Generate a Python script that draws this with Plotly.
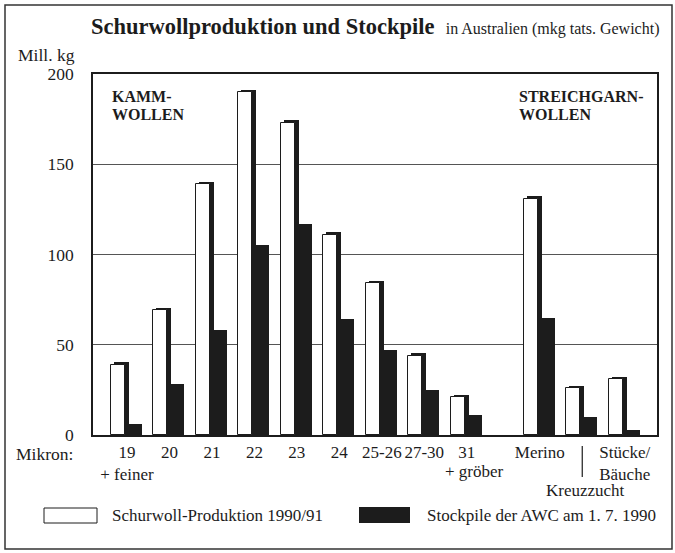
import plotly.graph_objects as go

# ---------------- data ----------------
categories = ["19", "20", "21", "22", "23", "24", "25-26", "27-30", "31",
              "Merino", "Kreuzzucht", "Stücke/Bäuche"]
produktion = [39, 69, 139, 190, 173, 111, 84, 44, 21, 131, 26, 31]   # Schurwoll-Produktion 1990/91
stockpile = [6, 28, 58, 105, 117, 64, 47, 25, 11, 65, 10, 3]         # Stockpile der AWC am 1.7.1990
tick_labels = ["19<br>+ feiner", "20", "21", "22", "23", "24", "25-26", "27-30", "31",
               "Merino", "", "Stücke/<br>Bäuche"]
y_ticks = [0, 50, 100, 150, 200]

# ---------------- layout helpers ----------------
W, H = 675, 553
ML, MR, MT, MB = 93, 18, 74, 118
PW, PH = W - ML - MR, H - MT - MB
GROUP_GAP = 0.72                      # extra space before the Streichgarn group
pos = [i + (GROUP_GAP if i >= 9 else 0) for i in range(len(categories))]
XMIN, XMAX = -0.80, 12.48
U = (XMAX - XMIN) / PW                # data units per pixel


def px(x):   # pixel x -> paper
    return (x - ML) / PW


def py(y):   # pixel y -> paper
    return (MT + PH - y) / PH


SERIF = "Liberation Serif, Times New Roman, serif"
INK = "#1c1c1c"

fig = go.Figure()

# shadow (3D edge) of the white bars
fig.add_trace(go.Bar(
    x=pos, y=[v + 1.3 for v in produktion], offset=-13 * U, width=15 * U,
    marker=dict(color=INK, line=dict(width=0)), showlegend=False, hoverinfo="skip"))
# white production bars
fig.add_trace(go.Bar(
    x=pos, y=produktion, offset=-16 * U, width=14 * U, name="Schurwoll-Produktion 1990/91",
    marker=dict(color="white", line=dict(color=INK, width=1)), showlegend=False))
# black stockpile bars
fig.add_trace(go.Bar(
    x=pos, y=stockpile, offset=0, width=15 * U, name="Stockpile der AWC am 1. 7. 1990",
    marker=dict(color=INK, line=dict(width=0)), showlegend=False))

ann = []
# title
ann.append(dict(xref="paper", yref="paper", x=px(89), y=py(27), xanchor="left", yanchor="middle",
                text="<b>Schurwollproduktion und Stockpile</b>  "
                     "<span style='font-size:16px'>in Australien (mkg tats. Gewicht)</span>",
                font=dict(family=SERIF, size=22.5, color=INK), showarrow=False))
ann.append(dict(xref="paper", yref="paper", x=px(16), y=py(55), xanchor="left", yanchor="middle",
                text="Mill. kg", font=dict(family=SERIF, size=17.5, color=INK), showarrow=False))
ann.append(dict(xref="paper", yref="paper", x=px(14), y=py(454), xanchor="left", yanchor="middle",
                text="Mikron:", font=dict(family=SERIF, size=17.5, color=INK), showarrow=False))
# group labels
for txt, xx, yy in [("KAMM-", 110, 97), ("WOLLEN", 110, 114),
                    ("STREICHGARN-", 517, 97), ("WOLLEN", 517, 114)]:
    ann.append(dict(xref="paper", yref="paper", x=px(xx), y=py(yy), xanchor="left", yanchor="middle",
                    text="<b>" + txt + "</b>", font=dict(family=SERIF, size=16, color=INK),
                    showarrow=False))
# extra category sub-labels
ann.append(dict(xref="x", yref="paper", x=pos[8], xshift=8, y=py(471), xanchor="center",
                yanchor="middle", text="+ gröber", font=dict(family=SERIF, size=17, color=INK),
                showarrow=False))
ann.append(dict(xref="x", yref="paper", x=pos[10], xshift=3, y=py(490), xanchor="center",
                yanchor="middle", text="Kreuzzucht", font=dict(family=SERIF, size=17, color=INK),
                showarrow=False))
# legend texts
ann.append(dict(xref="paper", yref="paper", x=px(110), y=py(515), xanchor="left", yanchor="middle",
                text="Schurwoll-Produktion 1990/91", font=dict(family=SERIF, size=17, color=INK),
                showarrow=False))
ann.append(dict(xref="paper", yref="paper", x=px(425), y=py(515), xanchor="left", yanchor="middle",
                text="Stockpile der AWC am 1. 7. 1990", font=dict(family=SERIF, size=17, color=INK),
                showarrow=False))

shapes = [
    # outer frame
    dict(type="rect", xref="paper", yref="paper", x0=px(5), x1=px(672), y0=py(549), y1=py(5),
         line=dict(color="#333", width=1.5), fillcolor="rgba(0,0,0,0)", layer="below"),
    # Kreuzzucht marker line
    dict(type="line", xref="x", yref="paper", x0=pos[10], x1=pos[10], y0=py(446), y1=py(477),
         line=dict(color=INK, width=1.2)),
    # legend boxes
    dict(type="rect", xref="paper", yref="paper", x0=px(44), x1=px(97), y0=py(523), y1=py(508),
         line=dict(color=INK, width=1), fillcolor="white"),
    dict(type="rect", xref="paper", yref="paper", x0=px(359), x1=px(410), y0=py(523), y1=py(507),
         line=dict(color=INK, width=0), fillcolor=INK),
]

fig.update_layout(
    width=W, height=H, margin=dict(l=ML, r=MR, t=MT, b=MB),
    paper_bgcolor="white", plot_bgcolor="white",
    barmode="overlay", bargap=0,
    font=dict(family=SERIF, size=17, color=INK),
    annotations=ann, shapes=shapes,
    xaxis=dict(range=[XMIN, XMAX], tickmode="array", tickvals=pos, ticktext=tick_labels,
               showgrid=False, zeroline=False, showline=True, mirror=True,
               linecolor=INK, linewidth=1.5, ticks="", ticklabelstandoff=1,
               tickfont=dict(family=SERIF, size=17, color=INK)),
    yaxis=dict(range=[0, 200], tickmode="array", tickvals=y_ticks,
               ticktext=[str(t) for t in y_ticks],
               showgrid=True, gridcolor="#555", gridwidth=1, zeroline=False,
               showline=True, mirror=True, linecolor=INK, linewidth=1.5, ticks="",
               ticklabelstandoff=14, tickfont=dict(family=SERIF, size=17.5, color=INK)),
)

fig.write_html("out.html", config={"displayModeBar": False},
               post_script="document.body.style.margin='0';")
